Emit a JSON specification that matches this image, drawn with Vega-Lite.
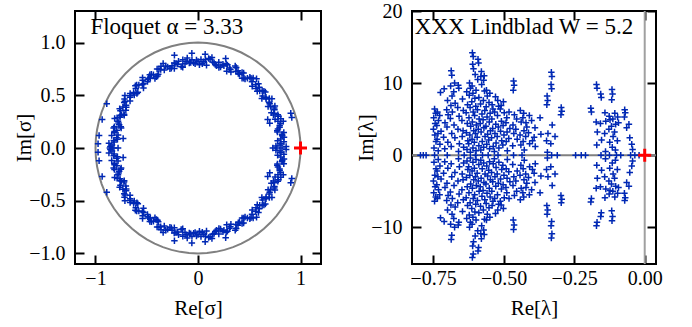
{
"$schema": "https://vega.github.io/schema/vega-lite/v6.json",
"padding": {"left": 12, "top": 0, "right": 0, "bottom": 0},
"spacing": 31,
"config": {
 "view": {"stroke": "black", "strokeWidth": 2},
 "font": "Liberation Serif, serif",
 "axis": {"grid": false, "domain": false, "tickSize": -9, "tickWidth": 2, "tickColor": "black", "labelFont": "Liberation Serif, serif", "labelFontSize": 20, "labelColor": "black", "titleFont": "Liberation Serif, serif", "titleFontSize": 21, "titleFontWeight": "normal", "titleColor": "black"}
},
"datasets": {
 "circle": [
{"i":0,"x":1,"y":0},{"i":1,"x":0.9962,"y":0.0872},{"i":2,"x":0.9848,"y":0.1736},{"i":3,"x":0.9659,"y":0.2588},{"i":4,"x":0.9397,"y":0.342},{"i":5,"x":0.9063,"y":0.4226},{"i":6,"x":0.866,"y":0.5},{"i":7,"x":0.8192,"y":0.5736},{"i":8,"x":0.766,"y":0.6428},{"i":9,"x":0.7071,"y":0.7071},{"i":10,"x":0.6428,"y":0.766},{"i":11,"x":0.5736,"y":0.8192},{"i":12,"x":0.5,"y":0.866},{"i":13,"x":0.4226,"y":0.9063},{"i":14,"x":0.342,"y":0.9397},{"i":15,"x":0.2588,"y":0.9659},{"i":16,"x":0.1736,"y":0.9848},{"i":17,"x":0.0872,"y":0.9962},{"i":18,"x":0,"y":1},
{"i":19,"x":-0.0872,"y":0.9962},{"i":20,"x":-0.1736,"y":0.9848},{"i":21,"x":-0.2588,"y":0.9659},{"i":22,"x":-0.342,"y":0.9397},{"i":23,"x":-0.4226,"y":0.9063},{"i":24,"x":-0.5,"y":0.866},{"i":25,"x":-0.5736,"y":0.8192},{"i":26,"x":-0.6428,"y":0.766},{"i":27,"x":-0.7071,"y":0.7071},{"i":28,"x":-0.766,"y":0.6428},{"i":29,"x":-0.8192,"y":0.5736},{"i":30,"x":-0.866,"y":0.5},{"i":31,"x":-0.9063,"y":0.4226},{"i":32,"x":-0.9397,"y":0.342},{"i":33,"x":-0.9659,"y":0.2588},{"i":34,"x":-0.9848,"y":0.1736},{"i":35,"x":-0.9962,"y":0.0872},{"i":36,"x":-1,"y":0},
{"i":37,"x":-0.9962,"y":-0.0872},{"i":38,"x":-0.9848,"y":-0.1736},{"i":39,"x":-0.9659,"y":-0.2588},{"i":40,"x":-0.9397,"y":-0.342},{"i":41,"x":-0.9063,"y":-0.4226},{"i":42,"x":-0.866,"y":-0.5},{"i":43,"x":-0.8192,"y":-0.5736},{"i":44,"x":-0.766,"y":-0.6428},{"i":45,"x":-0.7071,"y":-0.7071},{"i":46,"x":-0.6428,"y":-0.766},{"i":47,"x":-0.5736,"y":-0.8192},{"i":48,"x":-0.5,"y":-0.866},{"i":49,"x":-0.4226,"y":-0.9063},{"i":50,"x":-0.342,"y":-0.9397},{"i":51,"x":-0.2588,"y":-0.9659},{"i":52,"x":-0.1736,"y":-0.9848},{"i":53,"x":-0.0872,"y":-0.9962},{"i":54,"x":0,"y":-1},
{"i":55,"x":0.0872,"y":-0.9962},{"i":56,"x":0.1736,"y":-0.9848},{"i":57,"x":0.2588,"y":-0.9659},{"i":58,"x":0.342,"y":-0.9397},{"i":59,"x":0.4226,"y":-0.9063},{"i":60,"x":0.5,"y":-0.866},{"i":61,"x":0.5736,"y":-0.8192},{"i":62,"x":0.6428,"y":-0.766},{"i":63,"x":0.7071,"y":-0.7071},{"i":64,"x":0.766,"y":-0.6428},{"i":65,"x":0.8192,"y":-0.5736},{"i":66,"x":0.866,"y":-0.5},{"i":67,"x":0.9063,"y":-0.4226},{"i":68,"x":0.9397,"y":-0.342},{"i":69,"x":0.9659,"y":-0.2588},{"i":70,"x":0.9848,"y":-0.1736},{"i":71,"x":0.9962,"y":-0.0872},{"i":72,"x":1,"y":0}
 ],
 "floq": [
{"x":0.82,"y":0},{"x":-0.82,"y":0},{"x":0.73,"y":0},{"x":0.77,"y":0},{"x":-0.86,"y":0},{"x":-0.78,"y":0},
{"x":0.800,"y":0.028},{"x":0.838,"y":0.059},{"x":0.806,"y":0.085},{"x":0.822,"y":0.116},{"x":0.837,"y":0.148},{"x":0.773,"y":0.164},{"x":0.796,"y":0.198},{"x":0.807,"y":0.232},{"x":0.780,"y":0.253},{"x":0.752,"y":0.274},{"x":0.779,"y":0.315},{"x":0.740,"y":0.329},{"x":0.746,"y":0.364},{"x":0.750,"y":0.399},{"x":0.684,"y":0.395},{"x":0.695,"y":0.435},{"x":0.696,"y":0.470},{"x":0.663,"y":0.482},{"x":0.630,"y":0.493},{"x":0.643,"y":0.540},{"x":0.602,"y":0.542},{"x":0.597,"y":0.577},{"x":0.590,"y":0.611},{"x":0.529,"y":0.587},{"x":0.527,"y":0.628},{"x":0.517,"y":0.662},{"x":0.482,"y":0.663},{"x":0.447,"y":0.663},{"x":0.445,"y":0.712},{"x":0.405,"y":0.701},{"x":0.390,"y":0.733},{"x":0.373,"y":0.764},{"x":0.321,"y":0.722},{"x":0.307,"y":0.760},{"x":0.287,"y":0.789},{"x":0.253,"y":0.780},{"x":0.220,"y":0.769},{"x":0.203,"y":0.815},{"x":0.168,"y":0.792},{"x":0.144,"y":0.817},{"x":0.118,"y":0.842},{"x":0.083,"y":0.786},{"x":0.057,"y":0.818},{"x":0.029,"y":0.839},{"x":0,"y":0.820},{"x":-0.028,"y":0.800},{"x":-0.059,"y":0.838},{"x":-0.085,"y":0.806},{"x":-0.116,"y":0.822},{"x":-0.148,"y":0.837},{"x":-0.164,"y":0.773},{"x":-0.198,"y":0.796},{"x":-0.232,"y":0.807},{"x":-0.253,"y":0.780},{"x":-0.274,"y":0.752},{"x":-0.315,"y":0.779},{"x":-0.329,"y":0.740},{"x":-0.364,"y":0.746},{"x":-0.399,"y":0.750},{"x":-0.395,"y":0.684},{"x":-0.435,"y":0.695},{"x":-0.470,"y":0.696},{"x":-0.482,"y":0.663},{"x":-0.493,"y":0.630},{"x":-0.540,"y":0.643},{"x":-0.542,"y":0.602},{"x":-0.577,"y":0.597},{"x":-0.611,"y":0.590},{"x":-0.587,"y":0.529},{"x":-0.628,"y":0.527},{"x":-0.662,"y":0.517},{"x":-0.663,"y":0.482},{"x":-0.663,"y":0.447},{"x":-0.712,"y":0.445},{"x":-0.701,"y":0.405},{"x":-0.733,"y":0.390},{"x":-0.764,"y":0.373},{"x":-0.722,"y":0.321},{"x":-0.760,"y":0.307},{"x":-0.789,"y":0.287},{"x":-0.780,"y":0.253},{"x":-0.769,"y":0.220},{"x":-0.815,"y":0.203},{"x":-0.792,"y":0.168},{"x":-0.817,"y":0.144},{"x":-0.842,"y":0.118},{"x":-0.786,"y":0.083},{"x":-0.818,"y":0.057},{"x":-0.839,"y":0.029},
{"x":0.800,"y":-0.028},{"x":0.838,"y":-0.059},{"x":0.806,"y":-0.085},{"x":0.822,"y":-0.116},{"x":0.837,"y":-0.148},{"x":0.773,"y":-0.164},{"x":0.796,"y":-0.198},{"x":0.807,"y":-0.232},{"x":0.780,"y":-0.253},{"x":0.752,"y":-0.274},{"x":0.779,"y":-0.315},{"x":0.740,"y":-0.329},{"x":0.746,"y":-0.364},{"x":0.750,"y":-0.399},{"x":0.684,"y":-0.395},{"x":0.695,"y":-0.435},{"x":0.696,"y":-0.470},{"x":0.663,"y":-0.482},{"x":0.630,"y":-0.493},{"x":0.643,"y":-0.540},{"x":0.602,"y":-0.542},{"x":0.597,"y":-0.577},{"x":0.590,"y":-0.611},{"x":0.529,"y":-0.587},{"x":0.527,"y":-0.628},{"x":0.517,"y":-0.662},{"x":0.482,"y":-0.663},{"x":0.447,"y":-0.663},{"x":0.445,"y":-0.712},{"x":0.405,"y":-0.701},{"x":0.390,"y":-0.733},{"x":0.373,"y":-0.764},{"x":0.321,"y":-0.722},{"x":0.307,"y":-0.760},{"x":0.287,"y":-0.789},{"x":0.253,"y":-0.780},{"x":0.220,"y":-0.769},{"x":0.203,"y":-0.815},{"x":0.168,"y":-0.792},{"x":0.144,"y":-0.817},{"x":0.118,"y":-0.842},{"x":0.083,"y":-0.786},{"x":0.057,"y":-0.818},{"x":0.029,"y":-0.839},{"x":0,"y":-0.820},{"x":-0.028,"y":-0.800},{"x":-0.059,"y":-0.838},{"x":-0.085,"y":-0.806},{"x":-0.116,"y":-0.822},{"x":-0.148,"y":-0.837},{"x":-0.164,"y":-0.773},{"x":-0.198,"y":-0.796},{"x":-0.232,"y":-0.807},{"x":-0.253,"y":-0.780},{"x":-0.274,"y":-0.752},{"x":-0.315,"y":-0.779},{"x":-0.329,"y":-0.740},{"x":-0.364,"y":-0.746},{"x":-0.399,"y":-0.750},{"x":-0.395,"y":-0.684},{"x":-0.435,"y":-0.695},{"x":-0.470,"y":-0.696},{"x":-0.482,"y":-0.663},{"x":-0.493,"y":-0.630},{"x":-0.540,"y":-0.643},{"x":-0.542,"y":-0.602},{"x":-0.577,"y":-0.597},{"x":-0.611,"y":-0.590},{"x":-0.587,"y":-0.529},{"x":-0.628,"y":-0.527},{"x":-0.662,"y":-0.517},{"x":-0.663,"y":-0.482},{"x":-0.663,"y":-0.447},{"x":-0.712,"y":-0.445},{"x":-0.701,"y":-0.405},{"x":-0.733,"y":-0.390},{"x":-0.764,"y":-0.373},{"x":-0.722,"y":-0.321},{"x":-0.760,"y":-0.307},{"x":-0.789,"y":-0.287},{"x":-0.780,"y":-0.253},{"x":-0.769,"y":-0.220},{"x":-0.815,"y":-0.203},{"x":-0.792,"y":-0.168},{"x":-0.817,"y":-0.144},{"x":-0.842,"y":-0.118},{"x":-0.786,"y":-0.083},{"x":-0.818,"y":-0.057},{"x":-0.839,"y":-0.029},
{"x":0.860,"y":0.015},{"x":0.777,"y":0.068},{"x":0.820,"y":0.130},{"x":0.780,"y":0.180},{"x":0.832,"y":0.254},{"x":0.784,"y":0.301},{"x":0.716,"y":0.334},{"x":0.708,"y":0.393},{"x":0.721,"y":0.468},{"x":0.623,"y":0.469},{"x":0.626,"y":0.545},{"x":0.566,"y":0.566},{"x":0.571,"y":0.657},{"x":0.506,"y":0.671},{"x":0.430,"y":0.663},{"x":0.393,"y":0.708},{"x":0.363,"y":0.779},{"x":0.280,"y":0.728},{"x":0.243,"y":0.794},{"x":0.180,"y":0.780},{"x":0.136,"y":0.859},{"x":0.073,"y":0.837},{"x":0.014,"y":0.790},{"x":-0.042,"y":0.809},{"x":-0.105,"y":0.854},{"x":-0.149,"y":0.766},{"x":-0.215,"y":0.802},{"x":-0.260,"y":0.756},{"x":-0.340,"y":0.801},{"x":-0.381,"y":0.748},{"x":-0.407,"y":0.677},{"x":-0.465,"y":0.664},{"x":-0.541,"y":0.668},{"x":-0.532,"y":0.570},{"x":-0.607,"y":0.566},{"x":-0.622,"y":0.503},{"x":-0.713,"y":0.499},{"x":-0.720,"y":0.433},{"x":-0.704,"y":0.359},{"x":-0.746,"y":0.316},{"x":-0.813,"y":0.280},{"x":-0.753,"y":0.202},{"x":-0.815,"y":0.158},{"x":-0.794,"y":0.098},{"x":-0.869,"y":0.046},
{"x":0.860,"y":-0.015},{"x":0.777,"y":-0.068},{"x":0.820,"y":-0.130},{"x":0.780,"y":-0.180},{"x":0.832,"y":-0.254},{"x":0.784,"y":-0.301},{"x":0.716,"y":-0.334},{"x":0.708,"y":-0.393},{"x":0.721,"y":-0.468},{"x":0.623,"y":-0.469},{"x":0.626,"y":-0.545},{"x":0.566,"y":-0.566},{"x":0.571,"y":-0.657},{"x":0.506,"y":-0.671},{"x":0.430,"y":-0.663},{"x":0.393,"y":-0.708},{"x":0.363,"y":-0.779},{"x":0.280,"y":-0.728},{"x":0.243,"y":-0.794},{"x":0.180,"y":-0.780},{"x":0.136,"y":-0.859},{"x":0.073,"y":-0.837},{"x":0.014,"y":-0.790},{"x":-0.042,"y":-0.809},{"x":-0.105,"y":-0.854},{"x":-0.149,"y":-0.766},{"x":-0.215,"y":-0.802},{"x":-0.260,"y":-0.756},{"x":-0.340,"y":-0.801},{"x":-0.381,"y":-0.748},{"x":-0.407,"y":-0.677},{"x":-0.465,"y":-0.664},{"x":-0.541,"y":-0.668},{"x":-0.532,"y":-0.570},{"x":-0.607,"y":-0.566},{"x":-0.622,"y":-0.503},{"x":-0.713,"y":-0.499},{"x":-0.720,"y":-0.433},{"x":-0.704,"y":-0.359},{"x":-0.746,"y":-0.316},{"x":-0.813,"y":-0.280},{"x":-0.753,"y":-0.202},{"x":-0.815,"y":-0.158},{"x":-0.794,"y":-0.098},{"x":-0.869,"y":-0.046},
{"x":0.809,"y":0.042},{"x":0.839,"y":0.103},{"x":0.775,"y":0.151},{"x":0.797,"y":0.214},{"x":0.808,"y":0.278},{"x":0.736,"y":0.313},{"x":0.744,"y":0.379},{"x":0.699,"y":0.420},{"x":0.664,"y":0.465},{"x":0.657,"y":0.532},{"x":0.578,"y":0.539},{"x":0.563,"y":0.603},{"x":0.538,"y":0.664},{"x":0.459,"y":0.655},{"x":0.430,"y":0.716},{"x":0.370,"y":0.726},{"x":0.316,"y":0.746},{"x":0.275,"y":0.799},{"x":0.204,"y":0.763},{"x":0.157,"y":0.810},{"x":0.104,"y":0.849},{"x":0.042,"y":0.799},{"x":-0.015,"y":0.835},{"x":-0.071,"y":0.812},{"x":-0.127,"y":0.800},{"x":-0.190,"y":0.823},{"x":-0.231,"y":0.755},{"x":-0.296,"y":0.770},{"x":-0.361,"y":0.775},{"x":-0.388,"y":0.700},{"x":-0.455,"y":0.700},{"x":-0.490,"y":0.651},{"x":-0.531,"y":0.611},{"x":-0.598,"y":0.598},{"x":-0.596,"y":0.518},{"x":-0.659,"y":0.496},{"x":-0.717,"y":0.466},{"x":-0.700,"y":0.388},{"x":-0.757,"y":0.353},{"x":-0.761,"y":0.292},{"x":-0.775,"y":0.237},{"x":-0.823,"y":0.190},{"x":-0.780,"y":0.124},{"x":-0.822,"y":0.072},{"x":-0.855,"y":0.015},
{"x":0.809,"y":-0.042},{"x":0.839,"y":-0.103},{"x":0.775,"y":-0.151},{"x":0.797,"y":-0.214},{"x":0.808,"y":-0.278},{"x":0.736,"y":-0.313},{"x":0.744,"y":-0.379},{"x":0.699,"y":-0.420},{"x":0.664,"y":-0.465},{"x":0.657,"y":-0.532},{"x":0.578,"y":-0.539},{"x":0.563,"y":-0.603},{"x":0.538,"y":-0.664},{"x":0.459,"y":-0.655},{"x":0.430,"y":-0.716},{"x":0.370,"y":-0.726},{"x":0.316,"y":-0.746},{"x":0.275,"y":-0.799},{"x":0.204,"y":-0.763},{"x":0.157,"y":-0.810},{"x":0.104,"y":-0.849},{"x":0.042,"y":-0.799},{"x":-0.015,"y":-0.835},{"x":-0.071,"y":-0.812},{"x":-0.127,"y":-0.800},{"x":-0.190,"y":-0.823},{"x":-0.231,"y":-0.755},{"x":-0.296,"y":-0.770},{"x":-0.361,"y":-0.775},{"x":-0.388,"y":-0.700},{"x":-0.455,"y":-0.700},{"x":-0.490,"y":-0.651},{"x":-0.531,"y":-0.611},{"x":-0.598,"y":-0.598},{"x":-0.596,"y":-0.518},{"x":-0.659,"y":-0.496},{"x":-0.717,"y":-0.466},{"x":-0.700,"y":-0.388},{"x":-0.757,"y":-0.353},{"x":-0.761,"y":-0.292},{"x":-0.775,"y":-0.237},{"x":-0.823,"y":-0.190},{"x":-0.780,"y":-0.124},{"x":-0.822,"y":-0.072},{"x":-0.855,"y":-0.015},
{"x":-0.89,"y":0.42},{"x":-0.935,"y":0.27},{"x":-0.965,"y":0.12},{"x":-0.975,"y":0.04},{"x":-0.72,"y":0.31},{"x":-0.73,"y":0.09},{"x":-0.75,"y":0.19},{"x":0.905,"y":0.33},{"x":0.915,"y":0.29},{"x":0.68,"y":0.27},{"x":0.70,"y":0.235},{"x":-0.23,"y":0.88},{"x":-0.06,"y":0.90},{"x":0.07,"y":0.89},{"x":0.27,"y":0.85},{"x":-0.42,"y":0.66},{"x":0.76,"y":0.02},
{"x":-0.89,"y":-0.42},{"x":-0.935,"y":-0.27},{"x":-0.965,"y":-0.12},{"x":-0.975,"y":-0.04},{"x":-0.72,"y":-0.31},{"x":-0.73,"y":-0.09},{"x":-0.75,"y":-0.19},{"x":0.905,"y":-0.33},{"x":0.915,"y":-0.29},{"x":0.68,"y":-0.27},{"x":0.70,"y":-0.235},{"x":-0.23,"y":-0.88},{"x":-0.06,"y":-0.90},{"x":0.07,"y":-0.89},{"x":0.27,"y":-0.85},{"x":-0.42,"y":-0.66},{"x":0.76,"y":-0.02}
 ],
 "lind": [
{"x":-0.795,"y":0},{"x":-0.785,"y":0},{"x":-0.775,"y":0},{"x":-0.745,"y":0},{"x":-0.70,"y":0},{"x":-0.64,"y":0},{"x":-0.60,"y":0},{"x":-0.575,"y":0},{"x":-0.555,"y":0},{"x":-0.52,"y":0},{"x":-0.465,"y":0},{"x":-0.435,"y":0},{"x":-0.33,"y":0},{"x":-0.31,"y":0},{"x":-0.245,"y":0},{"x":-0.225,"y":0},{"x":-0.21,"y":0},{"x":-0.155,"y":0},{"x":-0.125,"y":0},{"x":-0.10,"y":0},{"x":-0.085,"y":0},{"x":-0.05,"y":0},{"x":-0.035,"y":0},{"x":-0.02,"y":0},
{"x":-0.745,"y":6.4},{"x":-0.741,"y":5.8},{"x":-0.748,"y":5.2},{"x":-0.743,"y":4.4},{"x":-0.749,"y":3.6},{"x":-0.744,"y":2.8},{"x":-0.740,"y":1.9},{"x":-0.747,"y":1.0},
{"x":-0.745,"y":-6.4},{"x":-0.741,"y":-5.8},{"x":-0.748,"y":-5.2},{"x":-0.743,"y":-4.4},{"x":-0.749,"y":-3.6},{"x":-0.744,"y":-2.8},{"x":-0.740,"y":-1.9},{"x":-0.747,"y":-1.0},
{"x":-0.735,"y":6.0},{"x":-0.731,"y":4.8},{"x":-0.737,"y":4.1},{"x":-0.733,"y":3.0},{"x":-0.736,"y":2.2},{"x":-0.732,"y":0.6},
{"x":-0.735,"y":-6.0},{"x":-0.731,"y":-4.8},{"x":-0.737,"y":-4.1},{"x":-0.733,"y":-3.0},{"x":-0.736,"y":-2.2},{"x":-0.732,"y":-0.6},
{"x":-0.724,"y":8.7},{"x":-0.727,"y":5.5},{"x":-0.722,"y":3.3},{"x":-0.726,"y":1.5},
{"x":-0.724,"y":-8.7},{"x":-0.727,"y":-5.5},{"x":-0.722,"y":-3.3},{"x":-0.726,"y":-1.5},
{"x":-0.711,"y":9.2},{"x":-0.708,"y":4.5},{"x":-0.713,"y":2.5},{"x":-0.709,"y":0.9},
{"x":-0.711,"y":-9.2},{"x":-0.708,"y":-4.5},{"x":-0.713,"y":-2.5},{"x":-0.709,"y":-0.9},
{"x":-0.699,"y":7.6},{"x":-0.702,"y":6.3},{"x":-0.697,"y":5.6},{"x":-0.701,"y":3.9},{"x":-0.698,"y":1.8},
{"x":-0.699,"y":-7.6},{"x":-0.702,"y":-6.3},{"x":-0.697,"y":-5.6},{"x":-0.701,"y":-3.9},{"x":-0.698,"y":-1.8},
{"x":-0.686,"y":11.7},{"x":-0.684,"y":11.1},{"x":-0.688,"y":9.6},{"x":-0.683,"y":8.2},{"x":-0.687,"y":6.9},{"x":-0.682,"y":6.0},{"x":-0.689,"y":5.1},{"x":-0.684,"y":3.0},{"x":-0.686,"y":1.2},
{"x":-0.686,"y":-11.7},{"x":-0.684,"y":-11.1},{"x":-0.688,"y":-9.6},{"x":-0.683,"y":-8.2},{"x":-0.687,"y":-6.9},{"x":-0.682,"y":-6.0},{"x":-0.689,"y":-5.1},{"x":-0.684,"y":-3.0},{"x":-0.686,"y":-1.2},
{"x":-0.674,"y":10.0},{"x":-0.677,"y":8.8},{"x":-0.672,"y":7.2},{"x":-0.676,"y":4.2},{"x":-0.673,"y":2.4},
{"x":-0.674,"y":-10.0},{"x":-0.677,"y":-8.8},{"x":-0.672,"y":-7.2},{"x":-0.676,"y":-4.2},{"x":-0.673,"y":-2.4},
{"x":-0.661,"y":9.7},{"x":-0.659,"y":9.3},{"x":-0.663,"y":6.6},{"x":-0.658,"y":5.4},{"x":-0.662,"y":3.6},{"x":-0.657,"y":1.6},{"x":-0.660,"y":0.5},
{"x":-0.661,"y":-9.7},{"x":-0.659,"y":-9.3},{"x":-0.663,"y":-6.6},{"x":-0.658,"y":-5.4},{"x":-0.662,"y":-3.6},{"x":-0.657,"y":-1.6},{"x":-0.660,"y":-0.5},
{"x":-0.646,"y":7.8},{"x":-0.643,"y":6.2},{"x":-0.648,"y":4.8},{"x":-0.644,"y":3.4},{"x":-0.647,"y":2.6},{"x":-0.642,"y":1.1},
{"x":-0.646,"y":-7.8},{"x":-0.643,"y":-6.2},{"x":-0.648,"y":-4.8},{"x":-0.644,"y":-3.4},{"x":-0.647,"y":-2.6},{"x":-0.642,"y":-1.1},
{"x":-0.631,"y":8.8},{"x":-0.628,"y":7.0},{"x":-0.633,"y":5.9},{"x":-0.629,"y":4.4},{"x":-0.632,"y":3.1},{"x":-0.627,"y":2.0},{"x":-0.630,"y":0.8},
{"x":-0.631,"y":-8.8},{"x":-0.628,"y":-7.0},{"x":-0.633,"y":-5.9},{"x":-0.629,"y":-4.4},{"x":-0.632,"y":-3.1},{"x":-0.627,"y":-2.0},{"x":-0.630,"y":-0.8},
{"x":-0.621,"y":10.0},{"x":-0.618,"y":9.3},{"x":-0.622,"y":8.3},{"x":-0.619,"y":6.6},{"x":-0.623,"y":5.2},{"x":-0.617,"y":4.0},{"x":-0.620,"y":2.8},{"x":-0.624,"y":1.6},{"x":-0.618,"y":0.4},
{"x":-0.621,"y":-10.0},{"x":-0.618,"y":-9.3},{"x":-0.622,"y":-8.3},{"x":-0.619,"y":-6.6},{"x":-0.623,"y":-5.2},{"x":-0.617,"y":-4.0},{"x":-0.620,"y":-2.8},{"x":-0.624,"y":-1.6},{"x":-0.618,"y":-0.4},
{"x":-0.611,"y":14.2},{"x":-0.608,"y":13.7},{"x":-0.610,"y":12.6},{"x":-0.607,"y":12.0},{"x":-0.612,"y":9.6},{"x":-0.609,"y":8.6},{"x":-0.613,"y":7.4},{"x":-0.608,"y":6.0},{"x":-0.611,"y":4.6},{"x":-0.606,"y":3.4},{"x":-0.612,"y":2.2},{"x":-0.609,"y":1.0},
{"x":-0.611,"y":-14.2},{"x":-0.608,"y":-13.7},{"x":-0.610,"y":-12.6},{"x":-0.607,"y":-12.0},{"x":-0.612,"y":-9.6},{"x":-0.609,"y":-8.6},{"x":-0.613,"y":-7.4},{"x":-0.608,"y":-6.0},{"x":-0.611,"y":-4.6},{"x":-0.606,"y":-3.4},{"x":-0.612,"y":-2.2},{"x":-0.609,"y":-1.0},
{"x":-0.601,"y":11.2},{"x":-0.598,"y":9.0},{"x":-0.602,"y":7.9},{"x":-0.599,"y":6.8},{"x":-0.603,"y":5.5},{"x":-0.597,"y":4.2},{"x":-0.600,"y":3.0},{"x":-0.604,"y":1.8},{"x":-0.598,"y":0.6},
{"x":-0.601,"y":-11.2},{"x":-0.598,"y":-9.0},{"x":-0.602,"y":-7.9},{"x":-0.599,"y":-6.8},{"x":-0.603,"y":-5.5},{"x":-0.597,"y":-4.2},{"x":-0.600,"y":-3.0},{"x":-0.604,"y":-1.8},{"x":-0.598,"y":-0.6},
{"x":-0.591,"y":13.3},{"x":-0.589,"y":12.8},{"x":-0.592,"y":10.5},{"x":-0.588,"y":8.0},{"x":-0.593,"y":6.3},{"x":-0.587,"y":5.0},{"x":-0.590,"y":3.6},{"x":-0.594,"y":2.5},{"x":-0.588,"y":1.3},
{"x":-0.591,"y":-13.3},{"x":-0.589,"y":-12.8},{"x":-0.592,"y":-10.5},{"x":-0.588,"y":-8.0},{"x":-0.593,"y":-6.3},{"x":-0.587,"y":-5.0},{"x":-0.590,"y":-3.6},{"x":-0.594,"y":-2.5},{"x":-0.588,"y":-1.3},
{"x":-0.579,"y":11.6},{"x":-0.581,"y":10.9},{"x":-0.578,"y":9.8},{"x":-0.582,"y":7.1},{"x":-0.577,"y":5.7},{"x":-0.583,"y":4.4},{"x":-0.580,"y":3.2},{"x":-0.576,"y":1.9},{"x":-0.581,"y":0.7},
{"x":-0.579,"y":-11.6},{"x":-0.581,"y":-10.9},{"x":-0.578,"y":-9.8},{"x":-0.582,"y":-7.1},{"x":-0.577,"y":-5.7},{"x":-0.583,"y":-4.4},{"x":-0.580,"y":-3.2},{"x":-0.576,"y":-1.9},{"x":-0.581,"y":-0.7},
{"x":-0.569,"y":11.0},{"x":-0.571,"y":10.4},{"x":-0.568,"y":8.9},{"x":-0.572,"y":7.6},{"x":-0.567,"y":6.2},{"x":-0.573,"y":4.9},{"x":-0.570,"y":3.8},{"x":-0.566,"y":2.6},{"x":-0.571,"y":1.1},
{"x":-0.569,"y":-11.0},{"x":-0.571,"y":-10.4},{"x":-0.568,"y":-8.9},{"x":-0.572,"y":-7.6},{"x":-0.567,"y":-6.2},{"x":-0.573,"y":-4.9},{"x":-0.570,"y":-3.8},{"x":-0.566,"y":-2.6},{"x":-0.571,"y":-1.1},
{"x":-0.561,"y":9.0},{"x":-0.558,"y":8.2},{"x":-0.562,"y":6.7},{"x":-0.559,"y":5.3},{"x":-0.563,"y":4.0},{"x":-0.557,"y":2.9},{"x":-0.560,"y":1.5},
{"x":-0.561,"y":-9.0},{"x":-0.558,"y":-8.2},{"x":-0.562,"y":-6.7},{"x":-0.559,"y":-5.3},{"x":-0.563,"y":-4.0},{"x":-0.557,"y":-2.9},{"x":-0.560,"y":-1.5},
{"x":-0.549,"y":8.6},{"x":-0.552,"y":7.3},{"x":-0.548,"y":5.8},{"x":-0.551,"y":4.6},{"x":-0.547,"y":3.4},{"x":-0.553,"y":2.1},{"x":-0.550,"y":0.9},
{"x":-0.549,"y":-8.6},{"x":-0.552,"y":-7.3},{"x":-0.548,"y":-5.8},{"x":-0.551,"y":-4.6},{"x":-0.547,"y":-3.4},{"x":-0.553,"y":-2.1},{"x":-0.550,"y":-0.9},
{"x":-0.541,"y":7.0},{"x":-0.538,"y":6.4},{"x":-0.542,"y":5.0},{"x":-0.539,"y":3.7},{"x":-0.543,"y":2.4},{"x":-0.537,"y":1.2},
{"x":-0.541,"y":-7.0},{"x":-0.538,"y":-6.4},{"x":-0.542,"y":-5.0},{"x":-0.539,"y":-3.7},{"x":-0.543,"y":-2.4},{"x":-0.537,"y":-1.2},
{"x":-0.529,"y":8.1},{"x":-0.532,"y":6.0},{"x":-0.528,"y":4.3},{"x":-0.531,"y":3.0},{"x":-0.527,"y":1.7},{"x":-0.533,"y":0.5},
{"x":-0.529,"y":-8.1},{"x":-0.532,"y":-6.0},{"x":-0.528,"y":-4.3},{"x":-0.531,"y":-3.0},{"x":-0.527,"y":-1.7},{"x":-0.533,"y":-0.5},
{"x":-0.521,"y":7.6},{"x":-0.518,"y":6.8},{"x":-0.522,"y":5.5},{"x":-0.519,"y":3.9},{"x":-0.523,"y":2.6},{"x":-0.517,"y":1.0},
{"x":-0.521,"y":-7.6},{"x":-0.518,"y":-6.8},{"x":-0.522,"y":-5.5},{"x":-0.519,"y":-3.9},{"x":-0.523,"y":-2.6},{"x":-0.517,"y":-1.0},
{"x":-0.509,"y":6.9},{"x":-0.512,"y":6.4},{"x":-0.508,"y":4.7},{"x":-0.511,"y":3.3},{"x":-0.507,"y":2.0},
{"x":-0.509,"y":-6.9},{"x":-0.512,"y":-6.4},{"x":-0.508,"y":-4.7},{"x":-0.511,"y":-3.3},{"x":-0.507,"y":-2.0},
{"x":-0.501,"y":7.4},{"x":-0.498,"y":5.9},{"x":-0.502,"y":4.1},{"x":-0.499,"y":2.8},{"x":-0.503,"y":1.4},
{"x":-0.501,"y":-7.4},{"x":-0.498,"y":-5.9},{"x":-0.502,"y":-4.1},{"x":-0.499,"y":-2.8},{"x":-0.503,"y":-1.4},
{"x":-0.489,"y":5.2},{"x":-0.492,"y":4.5},{"x":-0.488,"y":3.2},{"x":-0.491,"y":1.9},{"x":-0.487,"y":0.6},
{"x":-0.489,"y":-5.2},{"x":-0.492,"y":-4.5},{"x":-0.488,"y":-3.2},{"x":-0.491,"y":-1.9},{"x":-0.487,"y":-0.6},
{"x":-0.481,"y":6.0},{"x":-0.478,"y":3.7},{"x":-0.482,"y":2.3},
{"x":-0.481,"y":-6.0},{"x":-0.478,"y":-3.7},{"x":-0.482,"y":-2.3},
{"x":-0.465,"y":10.3},{"x":-0.463,"y":9.7},{"x":-0.466,"y":9.0},{"x":-0.462,"y":5.6},{"x":-0.467,"y":4.2},{"x":-0.464,"y":3.0},{"x":-0.468,"y":1.3},
{"x":-0.465,"y":-10.3},{"x":-0.463,"y":-9.7},{"x":-0.466,"y":-9.0},{"x":-0.462,"y":-5.6},{"x":-0.467,"y":-4.2},{"x":-0.464,"y":-3.0},{"x":-0.468,"y":-1.3},
{"x":-0.454,"y":5.0},{"x":-0.457,"y":3.6},{"x":-0.452,"y":2.2},
{"x":-0.454,"y":-5.0},{"x":-0.457,"y":-3.6},{"x":-0.452,"y":-2.2},
{"x":-0.441,"y":6.2},{"x":-0.438,"y":4.6},{"x":-0.442,"y":2.8},{"x":-0.439,"y":1.4},
{"x":-0.441,"y":-6.2},{"x":-0.438,"y":-4.6},{"x":-0.442,"y":-2.8},{"x":-0.439,"y":-1.4},
{"x":-0.429,"y":5.8},{"x":-0.432,"y":5.2},{"x":-0.428,"y":3.4},{"x":-0.431,"y":1.9},{"x":-0.427,"y":0.7},
{"x":-0.429,"y":-5.8},{"x":-0.432,"y":-5.2},{"x":-0.428,"y":-3.4},{"x":-0.431,"y":-1.9},{"x":-0.427,"y":-0.7},
{"x":-0.421,"y":4.5},{"x":-0.418,"y":3.9},{"x":-0.422,"y":2.6},
{"x":-0.421,"y":-4.5},{"x":-0.418,"y":-3.9},{"x":-0.422,"y":-2.6},
{"x":-0.409,"y":5.5},{"x":-0.412,"y":3.1},{"x":-0.408,"y":1.6},
{"x":-0.409,"y":-5.5},{"x":-0.412,"y":-3.1},{"x":-0.408,"y":-1.6},
{"x":-0.401,"y":4.8},{"x":-0.398,"y":2.0},
{"x":-0.401,"y":-4.8},{"x":-0.398,"y":-2.0},
{"x":-0.389,"y":3.8},{"x":-0.392,"y":2.5},{"x":-0.388,"y":1.2},
{"x":-0.389,"y":-3.8},{"x":-0.392,"y":-2.5},{"x":-0.388,"y":-1.2},
{"x":-0.371,"y":5.2},{"x":-0.368,"y":2.9},
{"x":-0.371,"y":-5.2},{"x":-0.368,"y":-2.9},
{"x":-0.346,"y":8.2},{"x":-0.344,"y":7.6},{"x":-0.347,"y":7.0},{"x":-0.343,"y":3.0},{"x":-0.348,"y":2.0},{"x":-0.345,"y":0.4},
{"x":-0.346,"y":-8.2},{"x":-0.344,"y":-7.6},{"x":-0.347,"y":-7.0},{"x":-0.343,"y":-3.0},{"x":-0.348,"y":-2.0},{"x":-0.345,"y":-0.4},
{"x":-0.331,"y":11.5},{"x":-0.329,"y":10.9},{"x":-0.332,"y":9.8},{"x":-0.330,"y":9.2},{"x":-0.328,"y":4.2},{"x":-0.333,"y":1.6},
{"x":-0.331,"y":-11.5},{"x":-0.329,"y":-10.9},{"x":-0.332,"y":-9.8},{"x":-0.330,"y":-9.2},{"x":-0.328,"y":-4.2},{"x":-0.333,"y":-1.6},
{"x":-0.318,"y":2.6},{"x":-0.318,"y":-2.6},
{"x":-0.296,"y":6.6},{"x":-0.294,"y":6.1},{"x":-0.297,"y":5.6},
{"x":-0.296,"y":-6.6},{"x":-0.294,"y":-6.1},{"x":-0.297,"y":-5.6},
{"x":-0.191,"y":6.5},{"x":-0.189,"y":6.0},
{"x":-0.191,"y":-6.5},{"x":-0.189,"y":-6.0},
{"x":-0.171,"y":9.8},{"x":-0.169,"y":9.3},{"x":-0.172,"y":4.6},{"x":-0.168,"y":3.2},{"x":-0.170,"y":1.4},
{"x":-0.171,"y":-9.8},{"x":-0.169,"y":-9.3},{"x":-0.172,"y":-4.6},{"x":-0.168,"y":-3.2},{"x":-0.170,"y":-1.4},
{"x":-0.156,"y":8.5},{"x":-0.154,"y":8.0},{"x":-0.157,"y":4.4},{"x":-0.153,"y":2.1},
{"x":-0.156,"y":-8.5},{"x":-0.154,"y":-8.0},{"x":-0.157,"y":-4.4},{"x":-0.153,"y":-2.1},
{"x":-0.141,"y":5.9},{"x":-0.138,"y":4.7},{"x":-0.142,"y":3.0},{"x":-0.139,"y":0.5},
{"x":-0.141,"y":-5.9},{"x":-0.138,"y":-4.7},{"x":-0.142,"y":-3.0},{"x":-0.139,"y":-0.5},
{"x":-0.126,"y":5.4},{"x":-0.123,"y":4.9},{"x":-0.127,"y":3.6},{"x":-0.124,"y":1.8},
{"x":-0.126,"y":-5.4},{"x":-0.123,"y":-4.9},{"x":-0.127,"y":-3.6},{"x":-0.124,"y":-1.8},
{"x":-0.116,"y":9.1},{"x":-0.114,"y":8.5},{"x":-0.117,"y":7.7},{"x":-0.113,"y":5.0},{"x":-0.118,"y":4.0},{"x":-0.112,"y":2.6},{"x":-0.115,"y":1.1},
{"x":-0.116,"y":-9.1},{"x":-0.114,"y":-8.5},{"x":-0.117,"y":-7.7},{"x":-0.113,"y":-5.0},{"x":-0.118,"y":-4.0},{"x":-0.112,"y":-2.6},{"x":-0.115,"y":-1.1},
{"x":-0.106,"y":5.8},{"x":-0.103,"y":4.3},{"x":-0.107,"y":3.2},{"x":-0.104,"y":0.7},
{"x":-0.106,"y":-5.8},{"x":-0.103,"y":-4.3},{"x":-0.107,"y":-3.2},{"x":-0.104,"y":-0.7},
{"x":-0.096,"y":5.3},{"x":-0.093,"y":4.5},{"x":-0.097,"y":2.0},
{"x":-0.096,"y":-5.3},{"x":-0.093,"y":-4.5},{"x":-0.097,"y":-2.0},
{"x":-0.071,"y":6.3},{"x":-0.069,"y":5.9},{"x":-0.072,"y":5.3},
{"x":-0.071,"y":-6.3},{"x":-0.069,"y":-5.9},{"x":-0.072,"y":-5.3},
{"x":-0.064,"y":3.8},{"x":-0.064,"y":-3.8},
{"x":-0.056,"y":4.3},{"x":-0.053,"y":2.4},{"x":-0.056,"y":-4.3},{"x":-0.053,"y":-2.4},
{"x":-0.046,"y":1.5},{"x":-0.043,"y":0.8},{"x":-0.046,"y":-1.5},{"x":-0.043,"y":-0.8}
 ],
 "lead1": [{"x":1,"y":0}],
 "lead2": [{"x":0,"y":0}],
 "zero": [{"v":0}]
},
"hconcat": [
 {
  "width": 246, "height": 253,
  "layer": [
   {"data": {"name": "circle"}, "mark": {"type": "line", "color": "#808080", "strokeWidth": 2},
    "encoding": {
     "x": {"field": "x", "type": "quantitative", "scale": {"domain": [-1.2, 1.2], "nice": false, "zero": false},
           "axis": {"orient": "bottom", "values": [-1, 0, 1], "format": "d", "labelPadding": 13, "title": "Re[σ]", "titlePadding": 9}},
     "y": {"field": "y", "type": "quantitative", "scale": {"domain": [-1.1, 1.3], "nice": false, "zero": false},
           "axis": {"orient": "left", "values": [-1, -0.5, 0, 0.5, 1], "format": ".1f", "labelPadding": 19, "title": "Im[σ]", "titlePadding": -6}},
     "order": {"field": "i", "type": "quantitative"}}},
   {"data": {"name": "floq"}, "mark": {"type": "point", "shape": "M-1,0L1,0M0,-1L0,1", "filled": false, "size": 42, "strokeWidth": 1.5, "color": "#0028b4", "opacity": 1},
    "encoding": {
     "x": {"field": "x", "type": "quantitative", "axis": {"orient": "top", "values": [-1, 0, 1], "labels": false, "title": null}},
     "y": {"field": "y", "type": "quantitative", "axis": {"orient": "right", "values": [-1, -0.5, 0, 0.5, 1], "labels": false, "title": null}}}},
   {"data": {"name": "lead1"}, "mark": {"type": "point", "shape": "M-1,0L1,0M0,-1L0,1", "filled": false, "size": 169, "strokeWidth": 3, "color": "#ff0000", "opacity": 1},
    "encoding": {
     "x": {"field": "x", "type": "quantitative", "axis": null},
     "y": {"field": "y", "type": "quantitative", "axis": null}}},
   {"data": {"values": [{"t": "Floquet α = 3.33"}]}, "mark": {"type": "text", "align": "left", "baseline": "middle", "fontSize": 23, "font": "Liberation Serif, serif", "color": "black"},
    "encoding": {
     "x": {"datum": -1.05, "type": "quantitative", "axis": null},
     "y": {"datum": 1.15, "type": "quantitative", "axis": null},
     "text": {"field": "t"}}}
  ],
  "resolve": {"axis": {"x": "independent", "y": "independent"}}
 },
 {
  "width": 244, "height": 253,
  "layer": [
   {"data": {"name": "zero"}, "mark": {"type": "rule", "color": "#808080", "strokeWidth": 2},
    "encoding": {
     "y": {"field": "v", "type": "quantitative", "scale": {"domain": [-15.1, 20], "nice": false, "zero": false},
           "axis": {"orient": "left", "values": [-10, 0, 10, 20], "format": "d", "labelPadding": 19, "title": "Im[λ]", "titlePadding": -6}}}},
   {"data": {"name": "zero"}, "mark": {"type": "rule", "color": "#a0a0a0", "strokeWidth": 2},
    "encoding": {
     "x": {"field": "v", "type": "quantitative", "scale": {"domain": [-0.825, 0.04], "nice": false, "zero": false},
           "axis": {"orient": "bottom", "values": [-0.75, -0.5, -0.25, 0], "format": ".2f", "labelPadding": 13, "title": "Re[λ]", "titlePadding": 9}}}},
   {"data": {"name": "lind"}, "mark": {"type": "point", "shape": "M-1,0L1,0M0,-1L0,1", "filled": false, "size": 42, "strokeWidth": 1.5, "color": "#0028b4", "opacity": 1},
    "encoding": {
     "x": {"field": "x", "type": "quantitative", "axis": {"orient": "top", "values": [-0.75, -0.5, -0.25, 0], "labels": false, "title": null}},
     "y": {"field": "y", "type": "quantitative", "axis": {"orient": "right", "values": [-10, 0, 10, 20], "labels": false, "title": null}}}},
   {"data": {"name": "lead2"}, "mark": {"type": "point", "shape": "M-1,0L1,0M0,-1L0,1", "filled": false, "size": 169, "strokeWidth": 3, "color": "#ff0000", "opacity": 1},
    "encoding": {
     "x": {"field": "x", "type": "quantitative", "axis": null},
     "y": {"field": "y", "type": "quantitative", "axis": null}}},
   {"data": {"values": [{"t": "XXX Lindblad W = 5.2"}]}, "mark": {"type": "text", "align": "left", "baseline": "middle", "fontSize": 23, "font": "Liberation Serif, serif", "color": "black"},
    "encoding": {
     "x": {"datum": -0.815, "type": "quantitative", "axis": null},
     "y": {"datum": 17.8, "type": "quantitative", "axis": null},
     "text": {"field": "t"}}}
  ],
  "resolve": {"axis": {"x": "independent", "y": "independent"}}
 }
]
}
